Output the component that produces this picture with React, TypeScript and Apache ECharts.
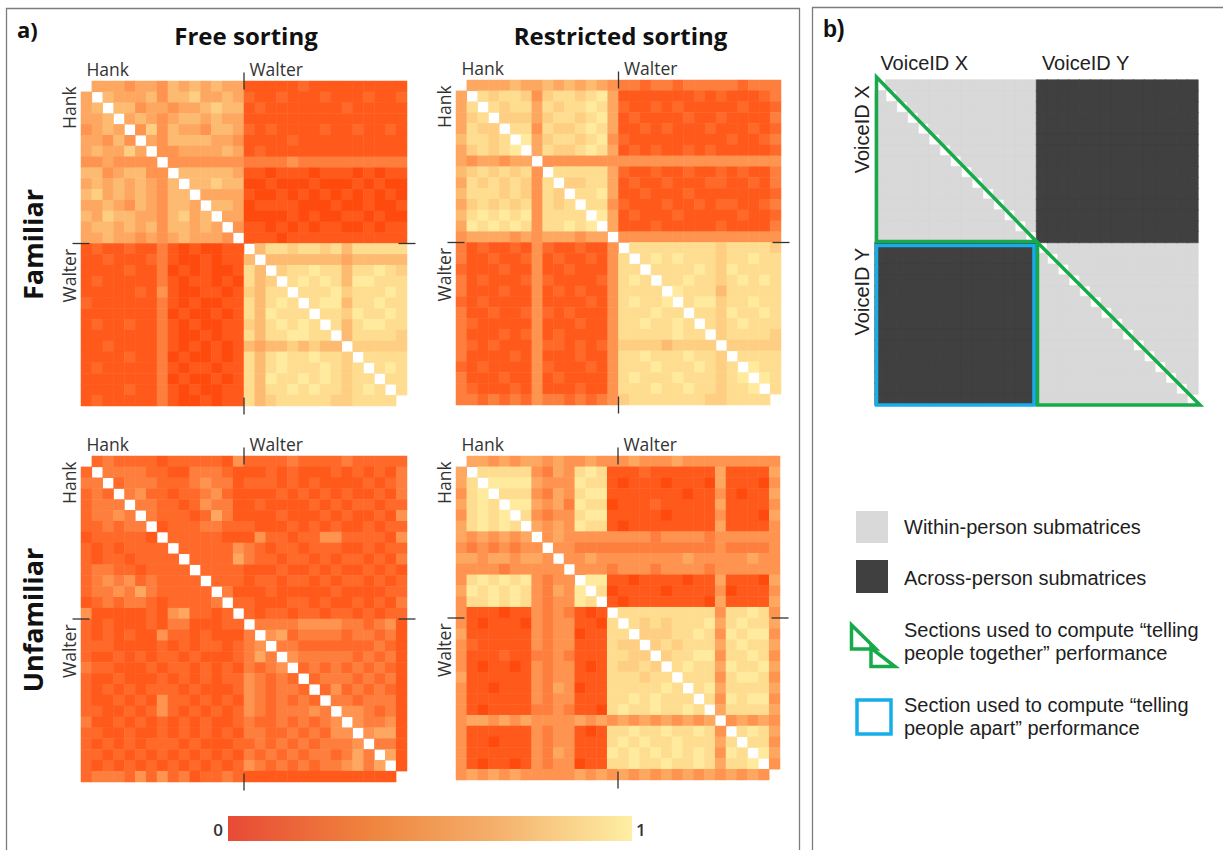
import React, { useEffect, useRef } from 'react';
import * as echarts from 'echarts';

// ---------------- data ----------------
const identities = ['Hank', 'Walter'];
const clipsPerIdentity = 15;
const voiceGroups = ['VoiceID X', 'VoiceID Y'];
const clipsPerVoice = 15;
// Each string below is one row of the lower triangle of a symmetric
// similarity matrix (row i lists columns 0..i-1); digit d = similarity d/9.
const levelSteps = 9;

const familiarFree = [
  '',
  '5',
  '56',
  '556',
  '4565',
  '55464',
  '565575',
  '4454444',
  '6645664 4',
  '5656565 4 6',
  '6756565 4 66',
  '5565465 4 665',
  '6576655 4 6756',
  '5665656 4 66565',
  '5565545 4 565554',
  '1211211 3 1010011',
  '1121112 3 1001011 6',
  '1111211 3 0101001 86',
  '1211111 3 1011010 867',
  '1111121 4 1001101 7688',
  '2111111 3 1010011 86898',
  '1111111 3 0100101 869888',
  '1211211 3 1010011 7689898',
  '1111111 3 1001011 86889988',
  '1121111 3 1010101 656676766',
  '1111211 3 0100101 8689889887',
  '1211111 3 1011011 86898889878',
  '1111111 3 0100101 869889898788',
  '1111211 3 1010011 8688989887898',
  '1211111 3 1001011 86788888778888',
];

const familiarRestricted = [
  '',
  '5',
  '58',
  '578',
  '5877',
  '68878',
  '578789',
  '5455455',
  '6787878 4',
  '5878787 4 8',
  '6888787 4 87',
  '5787878 4 878',
  '6898989 4 8888',
  '5989898 4 88989',
  '4555545 4 555455',
  '3121121 4 211211 4',
  '3112112 4 121121 4 8',
  '2111211 4 112111 4 88',
  '3121112 4 211112 4 898',
  '3111211 4 121211 4 8888',
  '2121111 4 111121 4 89889',
  '3112112 4 212111 4 888988',
  '3211111 4 111211 4 8898898',
  '3111212 4 121111 4 88888988',
  '3212111 4 221212 4 777767777',
  '3111121 4 111211 4 8898889887',
  '2121111 4 211121 4 88898889878',
  '3111211 4 121111 4 898889888789',
  '3211121 4 111211 4 8889889887889',
  '3323232 4 332323 4 78888888778888',
];

const unfamiliarFree = [
  '',
  '2',
  '33',
  '232',
  '2333',
  '23343',
  '223233',
  '1222221',
  '2121222 2',
  '2122122 2 2',
  '2332212 2 22',
  '2343423 2 222',
  '2334353 2 2222',
  '1232332 1 22223',
  '4111112 1 452212',
  '2121112 1 3311122',
  '2121211 4 2212111 3',
  '2221111 2 1212212 34',
  '2112121 2 2121112 353',
  '3221112 1 2212121 3234',
  '2112111 2 1212122 43232',
  '2121212 2 2121112 432332',
  '2112121 4 2212121 4323232',
  '2211212 4 2121212 43233343',
  '3112121 2 1212112 322323234',
  '2211211 2 1212121 3322323244',
  '2121212 2 2121112 23232323334',
  '2212121 2 1212121 323232332353',
  '2121212 1 2121212 4323232334535',
  '2333242 4 2312232 11111111111111',
];

const unfamiliarRestricted = [
  '',
  '5',
  '58',
  '489',
  '5898',
  '48989',
  '589898',
  '5454545',
  '4343434 4',
  '5545545 5 4',
  '4444344 4 44',
  '4 898989 4344',
  '5 989898 4354 9',
  '4 889898 4344 98',
  '4 111011 4343 101',
  '4 101110 4344 110 8',
  '5 111111 4344 011 88',
  '4 211111 4344 111 877',
  '4 111211 3343 111 8877',
  '4 101101 4344 101 87787',
  '5 111111 4344 111 888788',
  '4 110111 4354 011 8888898',
  '4 111111 4344 111 88989888',
  '4 101111 3343 110 898898898',
  '4 554545 4444 545 4545454545',
  '4 111111 4344 101 8898898898 4',
  '4 110111 4344 111 8989889888 5 8',
  '4 111111 4354 111 9898989898 4 98',
  '4 101101 4344 011 8898898898 5 889',
  '4 545454 4444 545 4545454545 4 5454',
];

const panelTitles = ['Free sorting', 'Restricted sorting'];
const rowTitles = ['Familiar', 'Unfamiliar'];
const colorbarTicks = ['0', '1'];
const legendLabels = [
  ['Within-person submatrices'],
  ['Across-person submatrices'],
  ['Sections used to compute \u201ctelling', 'people together\u201d performance'],
  ['Section used to compute \u201ctelling', 'people apart\u201d performance'],
];

// ---------------- layout / style ----------------
const W = 1223;
const H = 850;
const FONT_A = "'Open Sans', 'DejaVu Sans', sans-serif";
const FONT_B = "'Liberation Sans', Arial, sans-serif";
const HEAT_COLORS = ['#FF4A0E', '#FF6626', '#FE8C48', '#FDAF68', '#FED385', '#FFEA9E'];
const BAR_COLORS = [
  { offset: 0, color: '#E84A36' },
  { offset: 0.35, color: '#EF843D' },
  { offset: 0.65, color: '#F4AE6A' },
  { offset: 1, color: '#FEEFA4' },
];
const GREEN = '#17AA4A';
const BLUE = '#16AEE8';
const LIGHT = '#D9D9D9';
const DARK = '#404040';

const HEAT_GRIDS = [
  { left: 81, top: 81, width: 326, height: 325 },
  { left: 456, top: 80, width: 325, height: 325 },
  { left: 81, top: 456, width: 326, height: 326 },
  { left: 456, top: 456, width: 324, height: 324 },
];
const SCHEMA_GRID = { left: 875, top: 80, width: 323, height: 325 };

const clipIds = identities.flatMap((n) =>
  Array.from({ length: clipsPerIdentity }, (_, k) => `${n} ${k + 1}`)
);
const voiceClipIds = voiceGroups.flatMap((n) =>
  Array.from({ length: clipsPerVoice }, (_, k) => `${n} ${k + 1}`)
);

function toCells(rows: string[]) {
  const n = rows.length;
  const m: (number | null)[][] = Array.from({ length: n }, () => Array(n).fill(null));
  rows.forEach((row, i) => {
    const d = row.replace(/\s+/g, '');
    for (let j = 0; j < i && j < d.length; j++) {
      const v = Number(d[j]) / levelSteps;
      m[i][j] = v;
      m[j][i] = v;
    }
  });
  const cells: number[][] = [];
  for (let i = 0; i < n; i++) {
    for (let j = 0; j < n; j++) {
      const v = m[i][j];
      if (v !== null) cells.push([j, i, v]);
    }
  }
  return cells;
}

// within-person (same voice) or across-person cells of the schematic
function schemaCells(within: boolean) {
  const cells: number[][] = [];
  const n = voiceClipIds.length;
  for (let i = 0; i < n; i++) {
    for (let j = 0; j < n; j++) {
      if (i === j) continue;
      const same = Math.floor(i / clipsPerVoice) === Math.floor(j / clipsPerVoice);
      if (same === within) cells.push([j, i, within ? 0 : 1]);
    }
  }
  return cells;
}

const groupLabel = (names: string[], size: number) => (_: string, index: number) =>
  index % size === 0 ? names[index / size] : '';

function buildOption() {
  const matrices = [familiarFree, familiarRestricted, unfamiliarFree, unfamiliarRestricted];
  const grids = [...HEAT_GRIDS, SCHEMA_GRID];

  const xAxis: any[] = [];
  const yAxis: any[] = [];
  grids.forEach((g, k) => {
    const schema = k === 4;
    const fmt = schema ? groupLabel(voiceGroups, clipsPerVoice) : groupLabel(identities, clipsPerIdentity);
    const labelStyle = schema
      ? { fontFamily: FONT_B, fontSize: 20, color: '#222' }
      : { fontFamily: FONT_A, fontSize: 17.5, color: '#333' };
    xAxis.push({
      type: 'category',
      gridIndex: k,
      data: schema ? voiceClipIds : clipIds,
      position: 'top',
      axisLine: { show: false },
      axisTick: { show: false },
      splitLine: { show: false },
      axisLabel: { interval: 0, formatter: fmt, align: 'left', margin: schema ? 7 : 3, ...labelStyle },
    });
    yAxis.push({
      type: 'category',
      gridIndex: k,
      data: schema ? voiceClipIds : clipIds,
      inverse: true,
      axisLine: { show: false },
      axisTick: { show: false },
      splitLine: { show: false },
      axisLabel: { interval: 0, formatter: fmt, rotate: 90, align: 'right', margin: 3, ...labelStyle },
    });
  });

  const series: any[] = matrices.map((rows, k) => ({
    type: 'heatmap',
    xAxisIndex: k,
    yAxisIndex: k,
    data: toCells(rows),
    progressive: 0,
    silent: true,
    emphasis: { disabled: true },
  }));
  [true, false].forEach((within) => {
    const c = within ? LIGHT : DARK;
    series.push({
      type: 'heatmap',
      xAxisIndex: 4,
      yAxisIndex: 4,
      data: schemaCells(within),
      progressive: 0,
      silent: true,
      itemStyle: { borderColor: c, borderWidth: 0.6 },
      emphasis: { disabled: true },
    });
  });

  const graphic: any[] = [];
  const frame = { fill: 'none', stroke: '#7c7c7c', lineWidth: 1.3 };
  graphic.push({ type: 'rect', silent: true, shape: { x: 6.5, y: 8.5, width: 793, height: 900 }, style: frame });
  graphic.push({ type: 'rect', silent: true, shape: { x: 812.5, y: 7.5, width: 430, height: 900 }, style: frame });

  graphic.push({
    type: 'text', x: 17, y: 29,
    style: { text: 'a)', fontFamily: FONT_A, fontSize: 22, fontWeight: 'bold', fill: '#111', verticalAlign: 'middle' },
  });
  graphic.push({
    type: 'text', x: 823, y: 29,
    style: { text: 'b)', fontFamily: FONT_B, fontSize: 23, fontWeight: 'bold', fill: '#111', verticalAlign: 'middle' },
  });

  // column titles
  panelTitles.forEach((t, c) => {
    const g = HEAT_GRIDS[c];
    graphic.push({
      type: 'text', x: g.left + g.width / 2 + 2, y: 35,
      style: { text: t, fontFamily: FONT_A, fontSize: 24, fontWeight: 'bold', fill: '#111', align: 'center', verticalAlign: 'middle' },
    });
  });
  // row titles
  rowTitles.forEach((t, r) => {
    const g = HEAT_GRIDS[r * 2];
    graphic.push({
      type: 'text', x: 32, y: g.top + g.height / 2 + 1, rotation: Math.PI / 2,
      style: { text: t, fontFamily: FONT_A, fontSize: 27, fontWeight: 'bold', fill: '#111', align: 'center', verticalAlign: 'middle' },
    });
  });

  // boundary ticks between identities
  const tick = { stroke: '#333', lineWidth: 1.3 };
  HEAT_GRIDS.forEach((g) => {
    const bx = g.left + g.width / 2;
    const by = g.top + g.height / 2;
    const r = g.left + g.width;
    const b = g.top + g.height;
    const half = 8.5;
    [
      [bx, g.top - half, bx, g.top + half],
      [bx, b - half, bx, b + half],
      [g.left - half, by, g.left + half, by],
      [r - half, by, r + half, by],
    ].forEach(([x1, y1, x2, y2]) =>
      graphic.push({ type: 'line', z: 100, silent: true, shape: { x1, y1, x2, y2 }, style: tick })
    );
  });

  // colour bar
  const bar = { x: 228, y: 816, width: 404, height: 25 };
  graphic.push({
    type: 'rect', silent: true, shape: bar,
    style: { fill: new echarts.graphic.LinearGradient(0, 0, 1, 0, BAR_COLORS) },
  });
  graphic.push({
    type: 'text', x: bar.x - 5, y: bar.y + bar.height / 2 + 1,
    style: { text: colorbarTicks[0], fontFamily: FONT_A, fontSize: 17, fontWeight: 600, fill: '#333', align: 'right', verticalAlign: 'middle' },
  });
  graphic.push({
    type: 'text', x: bar.x + bar.width + 4, y: bar.y + bar.height / 2 + 1,
    style: { text: colorbarTicks[1], fontFamily: FONT_A, fontSize: 17, fontWeight: 600, fill: '#333', align: 'left', verticalAlign: 'middle' },
  });

  // schematic annotations
  const s = SCHEMA_GRID;
  const mx = s.left + s.width / 2;
  const my = s.top + s.height / 2;
  const sr = s.left + s.width;
  const sb = s.top + s.height;
  graphic.push({
    type: 'polygon', z: 100, silent: true,
    shape: { points: [[s.left + 1.5, s.top - 3], [s.left + 1.5, my - 1], [mx, my - 1]] },
    style: { fill: 'none', stroke: GREEN, lineWidth: 3.5, lineJoin: 'miter' },
  });
  graphic.push({
    type: 'polygon', z: 100, silent: true,
    shape: { points: [[mx + 1, my], [mx + 1, sb], [sr + 2, sb]] },
    style: { fill: 'none', stroke: GREEN, lineWidth: 3.5, lineJoin: 'miter' },
  });
  graphic.push({
    type: 'rect', z: 100, silent: true,
    shape: { x: s.left + 1.5, y: my + 3, width: mx - s.left - 4, height: sb - my - 3 },
    style: { fill: 'none', stroke: BLUE, lineWidth: 3.5 },
  });

  // legend
  const lx = 904;
  graphic.push({ type: 'rect', silent: true, shape: { x: 856, y: 511, width: 32, height: 32 }, style: { fill: LIGHT } });
  graphic.push({ type: 'rect', silent: true, shape: { x: 856, y: 560, width: 32, height: 33 }, style: { fill: DARK } });
  graphic.push({
    type: 'polygon', silent: true,
    shape: { points: [[851.5, 625], [851.5, 649], [876, 649]] },
    style: { fill: '#fff', stroke: GREEN, lineWidth: 3.5, lineJoin: 'miter' },
  });
  graphic.push({
    type: 'polygon', silent: true,
    shape: { points: [[871, 648], [871, 666.5], [895, 666.5]] },
    style: { fill: '#fff', stroke: GREEN, lineWidth: 3.5, lineJoin: 'miter' },
  });
  graphic.push({
    type: 'rect', silent: true,
    shape: { x: 857, y: 700, width: 34, height: 34 },
    style: { fill: 'none', stroke: BLUE, lineWidth: 3.5 },
  });
  const legendY = [[527], [578], [630, 653], [705, 728]];
  legendLabels.forEach((lines, i) => {
    lines.forEach((t, j) => {
      graphic.push({
        type: 'text', x: lx, y: legendY[i][j],
        style: { text: t, fontFamily: FONT_B, fontSize: 20, fill: '#1e1e1e', verticalAlign: 'middle' },
      });
    });
  });

  return {
    animation: false,
    backgroundColor: '#ffffff',
    grid: grids.map((g) => ({ ...g, containLabel: false })),
    xAxis,
    yAxis,
    visualMap: [
      {
        type: 'continuous', show: false, min: 0, max: 1, seriesIndex: [0, 1, 2, 3],
        inRange: { color: HEAT_COLORS },
      },
      {
        type: 'piecewise', show: false, seriesIndex: [4, 5],
        pieces: [{ value: 0, color: LIGHT }, { value: 1, color: DARK }],
      },
    ],
    series,
    graphic,
  };
}

export default function App() {
  const ref = useRef<HTMLDivElement>(null);
  useEffect(() => {
    if (!ref.current) return;
    const chart = echarts.init(ref.current, undefined, { renderer: 'svg' });
    chart.setOption(buildOption() as any);
    return () => chart.dispose();
  }, []);
  return (
    <div
      ref={ref}
      style={{ position: 'absolute', left: 0, top: 0, width: W, height: H, background: '#fff' }}
    />
  );
}
